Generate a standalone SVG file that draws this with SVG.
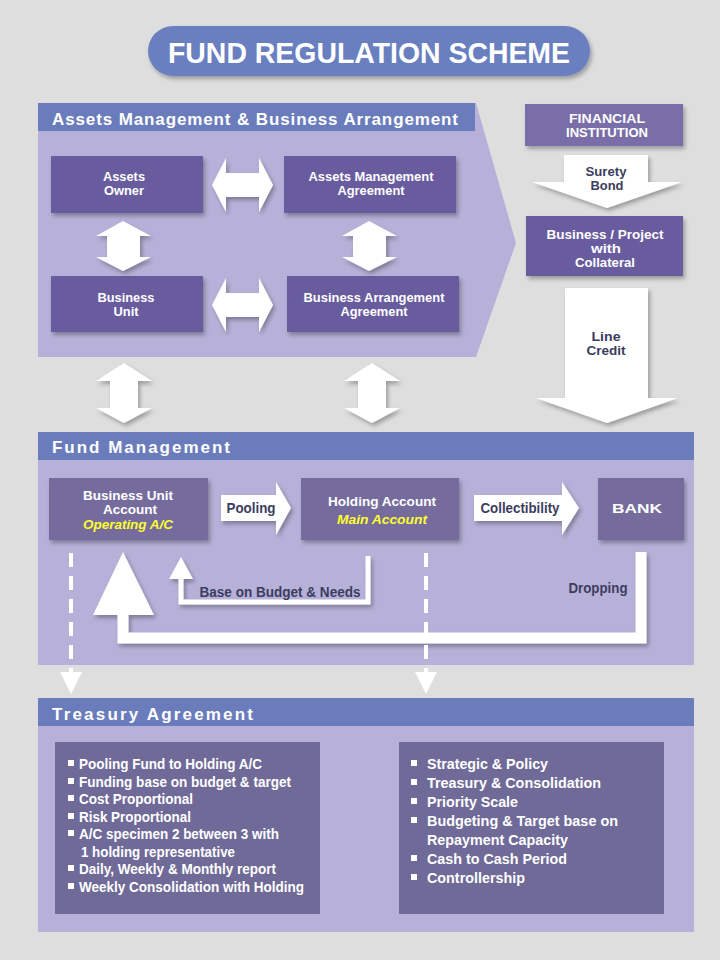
<svg xmlns="http://www.w3.org/2000/svg" width="720" height="960" viewBox="0 0 720 960">
<defs>
<filter id="sh" x="-20%" y="-20%" width="150%" height="160%"><feDropShadow dx="2" dy="3" stdDeviation="2" flood-color="#000" flood-opacity="0.3"/></filter>
<style>
text{font-family:"Liberation Sans Narrow","Arial Narrow","Liberation Sans",Arial,sans-serif;font-weight:bold}
.w{fill:#fff;text-anchor:middle;font-size:13px}
.d{fill:#3b3d5e;text-anchor:middle;font-size:14px}
.d2{fill:#3b3d5e;text-anchor:middle;font-size:13px}
.y{fill:#ffff2e;font-style:italic;text-anchor:middle;font-size:13px}
.h{fill:#fff;font-size:17px;font-family:"Liberation Sans",Arial,sans-serif}
.li{fill:#fff;font-size:15px}
.hdr{fill:#6a7cbb}
.body{fill:#b7b0d8}
.n1{fill:#675c9f}
.n2{fill:#746c9d}
.n3{fill:#6f6a98}
.wa{fill:#fff}
.bul{fill:#fff}
</style>
</defs>
<rect width="720" height="960" fill="#dedede"/>

<g id="title">
<rect x="148" y="26" width="442" height="50" rx="25" fill="#6a7fc0" filter="url(#sh)"/>
<text x="369" y="63" fill="#fff" font-size="30" text-anchor="middle" textLength="402" lengthAdjust="spacingAndGlyphs">FUND REGULATION SCHEME</text>
</g>

<g id="section-assets">
<polygon class="body" points="38,103 476,103 516,243 476,357 38,357"/>
<rect class="hdr" x="38" y="103" width="437" height="28"/>
<text class="h" x="52" y="125" textLength="406" lengthAdjust="spacing">Assets Management &amp; Business Arrangement</text>
</g>

<g id="section-fund">
<rect class="body" x="38" y="460" width="656" height="205"/>
<rect class="hdr" x="38" y="432" width="656" height="28"/>
<text class="h" x="52" y="453" textLength="178" lengthAdjust="spacing">Fund Management</text>
</g>

<g id="section-treasury">
<rect class="body" x="38" y="726" width="656" height="206"/>
<rect class="hdr" x="38" y="698" width="656" height="28"/>
<text class="h" x="52" y="720" textLength="201" lengthAdjust="spacing">Treasury Agreement</text>
</g>

<g id="assets-owner">
<rect class="n1" x="51" y="156" width="152" height="57" filter="url(#sh)"/>
<text class="w" x="124" y="181" textLength="42" lengthAdjust="spacingAndGlyphs">Assets</text>
<text class="w" x="124" y="195" textLength="40" lengthAdjust="spacingAndGlyphs">Owner</text>
</g>
<g id="assets-management-agreement">
<rect class="n1" x="284" y="156" width="172" height="57" filter="url(#sh)"/>
<text class="w" x="371" y="181" textLength="125" lengthAdjust="spacingAndGlyphs">Assets Management</text>
<text class="w" x="371" y="195" textLength="67" lengthAdjust="spacingAndGlyphs">Agreement</text>
</g>
<g id="business-unit">
<rect class="n1" x="51" y="276" width="152" height="56" filter="url(#sh)"/>
<text class="w" x="126" y="302" textLength="57" lengthAdjust="spacingAndGlyphs">Business</text>
<text class="w" x="126" y="316" textLength="25" lengthAdjust="spacingAndGlyphs">Unit</text>
</g>
<g id="business-arrangement-agreement">
<rect class="n1" x="287" y="276" width="172" height="56" filter="url(#sh)"/>
<text class="w" x="374" y="302" textLength="141" lengthAdjust="spacingAndGlyphs">Business Arrangement</text>
<text class="w" x="374" y="316" textLength="67" lengthAdjust="spacingAndGlyphs">Agreement</text>
</g>

<g id="financial-institution">
<rect x="525" y="104" width="158" height="42" fill="#7a6ea8" filter="url(#sh)"/>
<text class="w" x="607" y="123" textLength="76" lengthAdjust="spacingAndGlyphs">FINANCIAL</text>
<text class="w" x="607" y="137" textLength="82" lengthAdjust="spacingAndGlyphs">INSTITUTION</text>
</g>
<g id="business-project">
<rect class="n1" x="526" y="216" width="157" height="60" filter="url(#sh)"/>
<text class="w" x="605" y="239" textLength="117" lengthAdjust="spacingAndGlyphs">Business / Project</text>
<text class="w" x="606" y="253" textLength="30" lengthAdjust="spacingAndGlyphs">with</text>
<text class="w" x="605" y="267" textLength="60" lengthAdjust="spacingAndGlyphs">Collateral</text>
</g>

<g id="business-unit-account">
<rect class="n2" x="49" y="478" width="159" height="62" filter="url(#sh)"/>
<text class="w" x="128" y="500" textLength="90" lengthAdjust="spacingAndGlyphs">Business Unit</text>
<text class="w" x="130" y="514" textLength="54" lengthAdjust="spacingAndGlyphs">Account</text>
<text class="y" x="128" y="529" textLength="90" lengthAdjust="spacingAndGlyphs">Operating A/C</text>
</g>
<g id="holding-account">
<rect class="n2" x="301" y="478" width="158" height="62" filter="url(#sh)"/>
<text class="w" x="382" y="506" textLength="108" lengthAdjust="spacingAndGlyphs">Holding Account</text>
<text class="y" x="382" y="524" textLength="90" lengthAdjust="spacingAndGlyphs">Main Account</text>
</g>
<g id="bank">
<rect class="n2" x="598" y="478" width="86" height="62" filter="url(#sh)"/>
<text class="w" x="637" y="513" font-size="14" textLength="50" lengthAdjust="spacingAndGlyphs">BANK</text>
</g>

<g id="treasury-left">
<rect class="n3" x="55" y="742" width="265" height="172"/>
<rect class="bul" x="68" y="760" width="6" height="6"/>
<rect class="bul" x="68" y="778" width="6" height="6"/>
<rect class="bul" x="68" y="795" width="6" height="6"/>
<rect class="bul" x="68" y="813" width="6" height="6"/>
<rect class="bul" x="68" y="830" width="6" height="6"/>
<rect class="bul" x="68" y="865" width="6" height="6"/>
<rect class="bul" x="68" y="883" width="6" height="6"/>
<text class="li" x="79" y="769" textLength="183" lengthAdjust="spacingAndGlyphs">Pooling Fund to Holding A/C</text>
<text class="li" x="79" y="787" textLength="212" lengthAdjust="spacingAndGlyphs">Funding base on budget &amp; target</text>
<text class="li" x="79" y="804" textLength="114" lengthAdjust="spacingAndGlyphs">Cost Proportional</text>
<text class="li" x="79" y="822" textLength="112" lengthAdjust="spacingAndGlyphs">Risk Proportional</text>
<text class="li" x="79" y="839" textLength="200" lengthAdjust="spacingAndGlyphs">A/C specimen 2 between 3 with</text>
<text class="li" x="81" y="857" textLength="154" lengthAdjust="spacingAndGlyphs">1 holding representative</text>
<text class="li" x="79" y="874" textLength="197" lengthAdjust="spacingAndGlyphs">Daily, Weekly &amp; Monthly report</text>
<text class="li" x="79" y="892" textLength="225" lengthAdjust="spacingAndGlyphs">Weekly Consolidation with Holding</text>
</g>
<g id="treasury-right">
<rect class="n3" x="399" y="742" width="265" height="172"/>
<rect class="bul" x="411" y="760" width="6" height="6"/>
<rect class="bul" x="411" y="779" width="6" height="6"/>
<rect class="bul" x="411" y="798" width="6" height="6"/>
<rect class="bul" x="411" y="817" width="6" height="6"/>
<rect class="bul" x="411" y="855" width="6" height="6"/>
<rect class="bul" x="411" y="874" width="6" height="6"/>
<text class="li" x="427" y="769" font-size="16" textLength="121" lengthAdjust="spacingAndGlyphs">Strategic &amp; Policy</text>
<text class="li" x="427" y="788" font-size="16" textLength="174" lengthAdjust="spacingAndGlyphs">Treasury &amp; Consolidation</text>
<text class="li" x="427" y="807" font-size="16" textLength="91" lengthAdjust="spacingAndGlyphs">Priority Scale</text>
<text class="li" x="427" y="826" font-size="16" textLength="191" lengthAdjust="spacingAndGlyphs">Budgeting &amp; Target base on</text>
<text class="li" x="427" y="845" font-size="16" textLength="141" lengthAdjust="spacingAndGlyphs">Repayment Capacity</text>
<text class="li" x="427" y="864" font-size="16" textLength="140" lengthAdjust="spacingAndGlyphs">Cash to Cash Period</text>
<text class="li" x="427" y="883" font-size="16" textLength="98" lengthAdjust="spacingAndGlyphs">Controllership</text>
</g>

<g id="connectors">
<g filter="url(#sh)">
<path class="wa" d="M212,185 L226,158 L226,173 L259,173 L259,158 L273,185 L259,212 L259,197 L226,197 L226,212 Z"/>
<path class="wa" d="M212,305 L226,278 L226,293 L259,293 L259,278 L273,305 L259,332 L259,317 L226,317 L226,332 Z"/>
<path class="wa" d="M123,221 L151,236 L140,236 L140,257 L151,257 L123,271 L96,257 L107,257 L107,236 L96,236 Z"/>
<path class="wa" d="M369,221 L397,236 L386,236 L386,257 L397,257 L369,271 L342,257 L353,257 L353,236 L342,236 Z"/>
<path class="wa" d="M124,363 L152,381 L138,381 L138,408 L152,408 L124,423 L96,408 L110,408 L110,381 L96,381 Z"/>
<path class="wa" d="M372,363 L400,381 L386,381 L386,408 L400,408 L372,423 L344,408 L358,408 L358,381 L344,381 Z"/>
<path class="wa" d="M564,155 L648,155 L648,182 L682,182 L607,208 L532,182 L564,182 Z"/>
<path class="wa" d="M565,288 L648,288 L648,398 L678,398 L607,423 L536,398 L565,398 Z"/>
<path class="wa" d="M221,495 L276,495 L276,482 L291,508 L276,535 L276,521 L221,521 Z"/>
<path class="wa" d="M474,495 L562,495 L562,482 L579,508 L562,535 L562,521 L474,521 Z"/>
<path d="M641,552 V638 H123 V610" fill="none" stroke="#fff" stroke-width="11"/>
<polygon class="wa" points="123,552 154,615 93,615"/>
<path d="M368,556 V602 H181 V575" fill="none" stroke="#fff" stroke-width="5"/>
<polygon class="wa" points="181,557 193,579 169,579"/>
</g>
<line x1="71" y1="553" x2="71" y2="674" stroke="#fff" stroke-width="4" stroke-dasharray="14 9"/>
<polygon class="wa" points="60,672 82,672 71,694"/>
<line x1="426" y1="553" x2="426" y2="674" stroke="#fff" stroke-width="4" stroke-dasharray="14 9"/>
<polygon class="wa" points="415,672 437,672 426,694"/>
<text class="d2" x="606" y="176" textLength="41" lengthAdjust="spacingAndGlyphs">Surety</text>
<text class="d2" x="607" y="190" textLength="33" lengthAdjust="spacingAndGlyphs">Bond</text>
<text class="d2" x="606" y="341" textLength="29" lengthAdjust="spacingAndGlyphs">Line</text>
<text class="d2" x="606" y="355" textLength="39" lengthAdjust="spacingAndGlyphs">Credit</text>
<text class="d" x="251" y="513" textLength="49" lengthAdjust="spacingAndGlyphs">Pooling</text>
<text class="d" x="520" y="513" textLength="79" lengthAdjust="spacingAndGlyphs">Collectibility</text>
<text class="d" x="280" y="597" textLength="161" lengthAdjust="spacingAndGlyphs">Base on Budget &amp; Needs</text>
<text class="d" x="598" y="593" textLength="59" lengthAdjust="spacingAndGlyphs">Dropping</text>
</g>
</svg>
